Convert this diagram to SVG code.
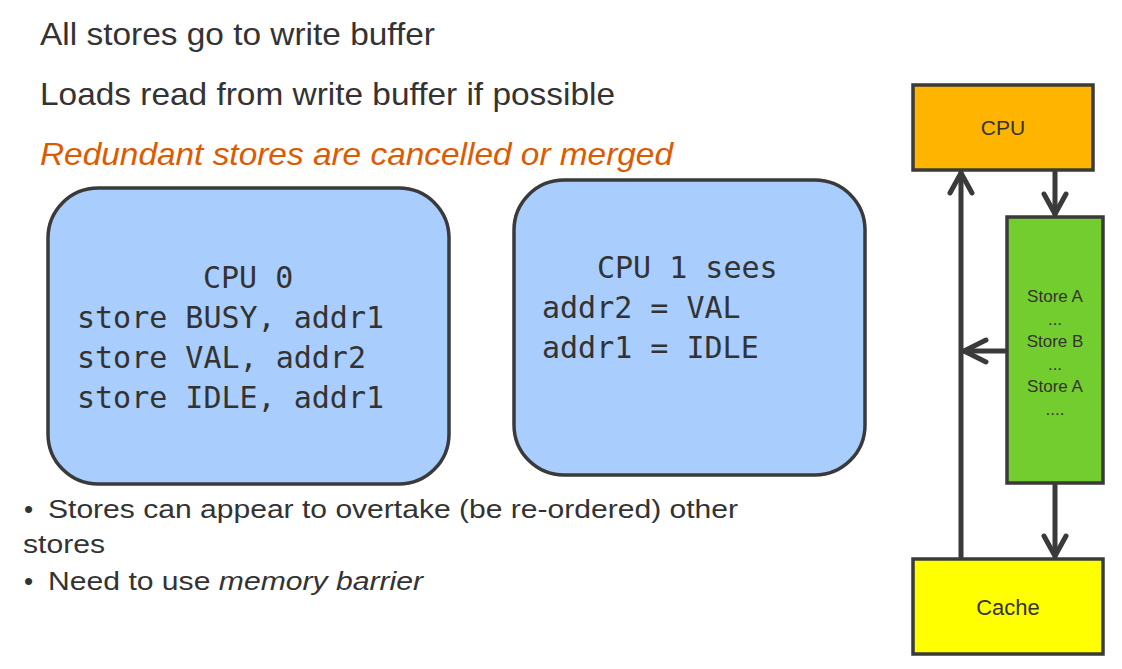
<svg xmlns="http://www.w3.org/2000/svg" width="1122" height="669" viewBox="0 0 1122 669">
<style>
.t{font-family:"Liberation Sans",Arial,sans-serif;fill:#333333}
.m{font-family:"DejaVu Sans Mono","Liberation Mono",monospace;font-size:30px;fill:#333333}
.box{stroke:#3a3a3a;stroke-width:3.5}
.conn{stroke:#3a3a3a;stroke-width:5;fill:none;stroke-linecap:round;stroke-linejoin:round}
</style>
<rect width="1122" height="669" fill="#ffffff"/>
<g id="headings">
<text class="t" x="40" y="45" font-size="32" textLength="395" lengthAdjust="spacingAndGlyphs">All stores go to write buffer</text>
<text class="t" x="40" y="105" font-size="32" textLength="575" lengthAdjust="spacingAndGlyphs">Loads read from write buffer if possible</text>
<text class="t" x="40" y="165" font-size="32" font-style="italic" style="fill:#DD5B00" textLength="633" lengthAdjust="spacingAndGlyphs">Redundant stores are cancelled or merged</text>
</g>
<g id="cpu0">
<rect class="box" x="48" y="188" width="401" height="296" rx="50" fill="#A9CEFD"/>
<text class="m" x="203" y="288">CPU 0</text>
<text class="m" x="77" y="328">store BUSY, addr1</text>
<text class="m" x="77" y="368">store VAL, addr2</text>
<text class="m" x="77" y="408">store IDLE, addr1</text>
</g>
<g id="cpu1">
<rect class="box" x="514" y="180" width="351" height="295" rx="50" fill="#A9CEFD"/>
<text class="m" x="597" y="278">CPU 1 sees</text>
<text class="m" x="542" y="318">addr2 = VAL</text>
<text class="m" x="542" y="358">addr1 = IDLE</text>
</g>
<g id="bullets">
<text class="t" x="24" y="518" font-size="26">•</text>
<text class="t" x="48" y="518" font-size="26" textLength="690" lengthAdjust="spacingAndGlyphs">Stores can appear to overtake (be re-ordered) other</text>
<text class="t" x="23" y="553" font-size="26" textLength="82" lengthAdjust="spacingAndGlyphs">stores</text>
<text class="t" x="24" y="590" font-size="26">•</text>
<text class="t" x="48" y="590" font-size="26" textLength="375" lengthAdjust="spacingAndGlyphs">Need to use <tspan font-style="italic">memory barrier</tspan></text>
</g>
<g id="cpu">
<rect class="box" x="913" y="85" width="180" height="85" fill="#FFB400"/>
<text class="t" x="1003" y="135" font-size="21" text-anchor="middle">CPU</text>
</g>
<g id="writebuffer">
<rect class="box" x="1007" y="217" width="96" height="266" fill="#73CD2E"/>
<g class="t" font-size="17" text-anchor="middle">
<text x="1055" y="302">Store A</text>
<text x="1055" y="325">...</text>
<text x="1055" y="347">Store B</text>
<text x="1055" y="370">...</text>
<text x="1055" y="392">Store A</text>
<text x="1055" y="415">....</text>
</g>
</g>
<g id="cache">
<rect class="box" x="913" y="559" width="190" height="95" fill="#FFFF00"/>
<text class="t" x="1008" y="615" font-size="22" text-anchor="middle">Cache</text>
</g>
<g id="connectors">
<path class="conn" d="M961 557 V173"/>
<path class="conn" d="M950 193 L961 173 L972 193"/>
<path class="conn" d="M1055 172 V214"/>
<path class="conn" d="M1044 194 L1055 214 L1066 194"/>
<path class="conn" d="M1005 351 H964"/>
<path class="conn" d="M986 340 L964 351 L986 362"/>
<path class="conn" d="M1055 485 V556"/>
<path class="conn" d="M1044 536 L1055 556 L1066 536"/>
</g>
</svg>
